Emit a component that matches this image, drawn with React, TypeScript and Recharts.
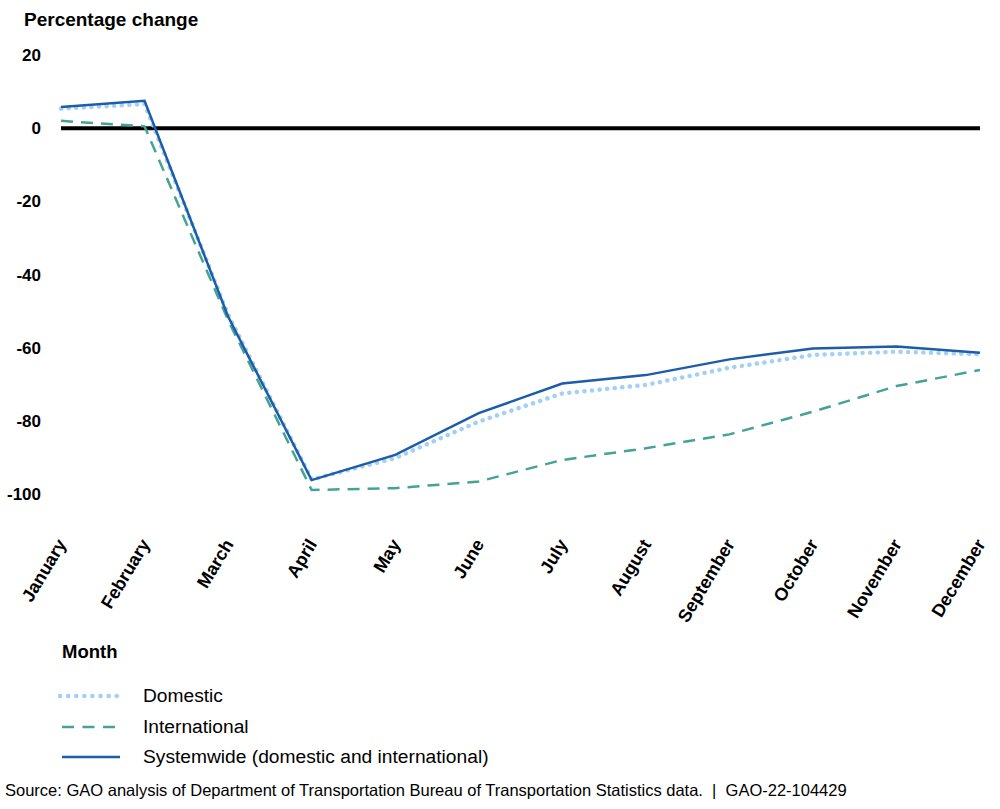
import { LineChart, Line, XAxis, YAxis, ReferenceLine } from 'recharts'

const months = ['January', 'February', 'March', 'April', 'May', 'June', 'July', 'August', 'September', 'October', 'November', 'December']
const domestic = [5.3, 6.6, -51, -96, -90.2, -80.2, -72.5, -70.2, -65.5, -62, -61.1, -61.8]
const international = [2, 0.5, -52.5, -98.9, -98.4, -96.6, -90.7, -87.5, -83.7, -77.5, -70.5, -66.1]
const systemwide = [5.8, 7.5, -51.5, -96.2, -89.3, -77.9, -69.8, -67.5, -63.2, -60.2, -59.7, -61.4]
const yTicks = [20, 0, -20, -40, -60, -80, -100]

const FONT = '"Liberation Sans", Arial, sans-serif'
const DOM_COLOR = '#a3d0f7'
const INTL_COLOR = '#46a394'
const SYS_COLOR = '#1c5ca8'

const data = months.map((m, i) => ({
  month: m,
  domestic: domestic[i],
  international: international[i],
  systemwide: systemwide[i],
}))

function MonthTick({ x, y, payload }: any) {
  return (
    <g transform={`translate(${x + 6},${y + 42})`}>
      <text
        transform="rotate(-59)"
        textAnchor="end"
        fontSize={18}
        fontWeight="bold"
        fontFamily={FONT}
        fill="#000"
      >
        {payload.value}
      </text>
    </g>
  )
}

export default function App() {
  const legendItems = [
    { label: 'Domestic', color: DOM_COLOR, dash: '0.1 8', width: 4.5, cap: 'round' as const, x1: 2 },
    { label: 'International', color: INTL_COLOR, dash: '12 8.5', width: 2.5, cap: 'butt' as const, x1: 4 },
    { label: 'Systemwide (domestic and international)', color: SYS_COLOR, dash: undefined, width: 2.5, cap: 'butt' as const, x1: 4 },
  ]

  return (
    <div style={{ position: 'absolute', left: 0, top: 0, width: 1000, height: 809, background: '#fff', fontFamily: FONT }}>
      <div style={{ position: 'absolute', left: 24, top: 9, fontSize: 19, fontWeight: 'bold' }}>Percentage change</div>
      <div style={{ position: 'absolute', left: 0, top: 0 }}>
        <LineChart width={1000} height={640} data={data} margin={{ top: 55, right: 20, bottom: 0, left: 0 }}>
          <XAxis
            dataKey="month"
            axisLine={false}
            tickLine={false}
            interval={0}
            tick={<MonthTick />}
            height={146}
          />
          <YAxis
            domain={[-100, 20]}
            ticks={yTicks}
            axisLine={false}
            tickLine={false}
            width={61}
            tickMargin={14}
            tick={{ fontSize: 17, fontWeight: 'bold', fill: '#000', fontFamily: FONT }}
          />
          <ReferenceLine y={0} stroke="#000" strokeWidth={4} />
          <Line
            dataKey="domestic"
            stroke={DOM_COLOR}
            strokeWidth={4.5}
            strokeDasharray="0.1 7.5"
            strokeLinecap="round"
            dot={false}
            isAnimationActive={false}
          />
          <Line
            dataKey="international"
            stroke={INTL_COLOR}
            strokeWidth={2.5}
            strokeDasharray="12 8"
            dot={false}
            isAnimationActive={false}
          />
          <Line
            dataKey="systemwide"
            stroke={SYS_COLOR}
            strokeWidth={2.5}
            dot={false}
            isAnimationActive={false}
          />
        </LineChart>
      </div>
      <div style={{ position: 'absolute', left: 62, top: 641, fontSize: 18.5, fontWeight: 'bold' }}>Month</div>
      {legendItems.map((item, i) => (
        <div key={item.label} style={{ position: 'absolute', left: 58, top: 684 + i * 30.5, display: 'flex', alignItems: 'center' }}>
          <svg width={66} height={24}>
            <line
              x1={item.x1}
              y1={12}
              x2={62}
              y2={12}
              stroke={item.color}
              strokeWidth={item.width}
              strokeDasharray={item.dash}
              strokeLinecap={item.cap}
            />
          </svg>
          <span style={{ marginLeft: 19, fontSize: 19.2 }}>{item.label}</span>
        </div>
      ))}
      <div style={{ position: 'absolute', left: 5, top: 781, fontSize: 16.5 }}>
        Source: GAO analysis of Department of Transportation Bureau of Transportation Statistics data.&nbsp; |&nbsp; GAO-22-104429
      </div>
    </div>
  )
}
